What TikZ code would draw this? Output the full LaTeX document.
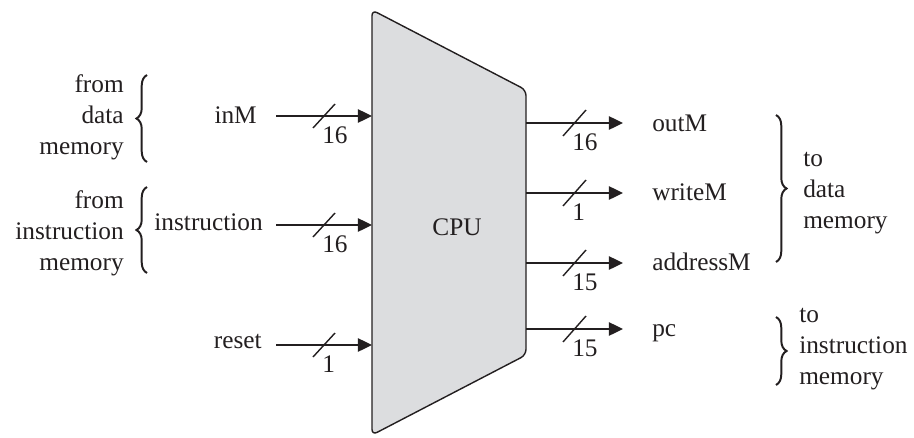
\documentclass[tikz,border=0pt]{standalone}
\usepackage{fontspec}
\setmainfont{Liberation Serif}
\usetikzlibrary{arrows.meta,decorations.pathreplacing}
\definecolor{ink}{HTML}{231F20}
\definecolor{cpufill}{HTML}{DCDDDF}

\begin{document}
\begin{tikzpicture}[x=0.025cm,y=0.025cm,
    font=\fontsize{18}{22}\selectfont,text=ink,
    bus/.style={draw=ink,line width=1pt,-{Triangle[length=10pt,width=9.5pt]}},
    sig/.style={inner sep=0pt},
    busw/.style={draw=ink,line width=1pt},
    brc/.style={draw=ink,line width=1.4pt,decorate,decoration={brace,amplitude=7.5pt}},
    grp/.style={inner sep=0pt}]
  \useasboundingbox (0,0) rectangle (914,437);
  % processor
  \draw[fill=cpufill,draw=ink,line width=1pt,rounded corners=4pt]
    (372,2) -- (372,427) -- (526,347) -- (526,82) -- cycle;
  \node (cpu) at (457,210) {CPU};
  \coordinate (cpuL) at (372,0);
  \coordinate (cpuR) at (526,0);

  % inputs
  \foreach \n/\tx/\ty/\ay/\w in {inM/257/314/321/16,instruction/263/207/212/16,reset/262/89/92/1}{
    \node[sig,anchor=base east] (\n) at (\tx,\ty) {\n};
    \coordinate (\n-a) at (276,\ay);
    \draw[bus] (\n-a) -- (\n-a -| cpuL);
    \draw[busw] (313,\ay-12) -- (335,\ay+12);
    \node[sig,anchor=base west] (\n-w) at (322,\ay-27) {\w};
  }

  % outputs
  \foreach \n/\ty/\ay/\w in {outM/306/314/16,writeM/237/244/1,addressM/167/174/15,pc/101/108/15}{
    \coordinate (\n-b) at (623,\ay);
    \draw[bus] (\n-b -| cpuR) -- (\n-b);
    \draw[busw] (563,\ay-13) -- (586,\ay+13);
    \node[sig,anchor=base west] (\n) at (652,\ty) {\n};
    \node[sig,anchor=base west] (\n-w) at (572,\ay-27) {\w};
  }

  % where the signals come from / go to
  \node[grp,anchor=east,align=right] (fromdata) at (124,320) {from\\data\\memory};
  \node[grp,anchor=east,align=right] (frominstr) at (124,204) {from\\instruction\\memory};
  \node[grp,anchor=west,align=left] (todata) at (803,244) {to\\data\\memory};
  \node[grp,anchor=west,align=left] (toinstr) at (799,88) {to\\instruction\\memory};
  \draw[brc] (147,275) -- (147,362);
  \draw[brc] (147,164) -- (147,250);
  \draw[brc] (776,322) -- (776,175);
  \draw[brc] (776,120) -- (776,52);
\end{tikzpicture}
\end{document}
